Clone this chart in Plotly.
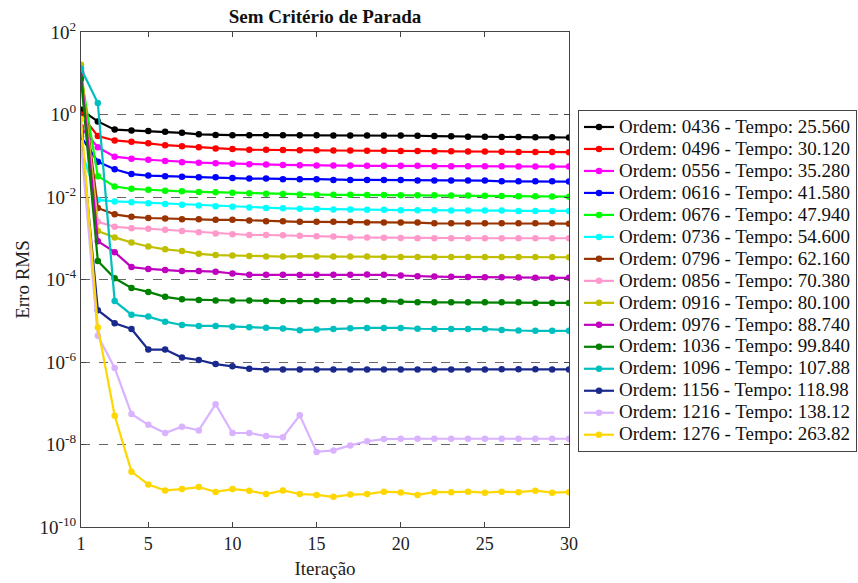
import plotly.graph_objects as go

iteracoes = list(range(1, 31))
x_ticks = [1, 5, 10, 15, 20, 25, 30]
y_expoentes = [2, 0, -2, -4, -6, -8, -10]

ordens = ["0436", "0496", "0556", "0616", "0676", "0736", "0796", "0856",
          "0916", "0976", "1036", "1096", "1156", "1216", "1276"]
tempos = ["25.560", "30.120", "35.280", "41.580", "47.940", "54.600", "62.160",
          "70.380", "80.100", "88.740", "99.840", "107.88", "118.98", "138.12", "263.82"]

cores = ["#000000", "#ff0000", "#ff00ff", "#0000ff", "#00ff00", "#00ffff", "#993300",
         "#ff99cc", "#bfbf00", "#bf00bf", "#008000", "#00bfbf", "#1a2a8c", "#d9b3ff", "#ffd700"]

erro_0436 = [1.3, 0.68, 0.43, 0.41, 0.40, 0.38, 0.36, 0.33, 0.32, 0.315, 0.315, 0.315, 0.315, 0.315, 0.315,
             0.31, 0.31, 0.31, 0.31, 0.31, 0.305, 0.30, 0.295, 0.29, 0.29, 0.285, 0.285, 0.28, 0.28, 0.277]
erro_0496 = [1.0, 0.30, 0.235, 0.22, 0.20, 0.18, 0.17, 0.16, 0.15, 0.145, 0.14, 0.14, 0.138, 0.135, 0.135,
             0.134, 0.134, 0.133, 0.132, 0.131, 0.13, 0.129, 0.128, 0.127, 0.126, 0.125, 0.124, 0.123, 0.123, 0.122]
erro_0556 = [0.5, 0.16, 0.095, 0.085, 0.08, 0.075, 0.07, 0.068, 0.066, 0.064, 0.062, 0.061, 0.06, 0.059, 0.058,
             0.058, 0.058, 0.057, 0.057, 0.057, 0.057, 0.056, 0.056, 0.056, 0.056, 0.056, 0.055, 0.055, 0.055, 0.0547]
erro_0616 = [0.29, 0.072, 0.047, 0.036, 0.033, 0.032, 0.031, 0.030, 0.030, 0.029, 0.028, 0.028, 0.027, 0.027, 0.027,
             0.026, 0.026, 0.026, 0.026, 0.026, 0.025, 0.025, 0.025, 0.025, 0.025, 0.024, 0.024, 0.024, 0.024, 0.0237]
erro_0676 = [9.0, 0.032, 0.018, 0.0158, 0.015, 0.0142, 0.0137, 0.0133, 0.013, 0.0127, 0.0124, 0.012, 0.0118, 0.0115, 0.0114,
             0.0113, 0.0113, 0.0112, 0.0112, 0.0111, 0.011, 0.011, 0.0109, 0.0108, 0.0107, 0.0106, 0.0105, 0.0104, 0.0103, 0.0102]
erro_0736 = [0.14, 0.0085, 0.0078, 0.0075, 0.0071, 0.0068, 0.0065, 0.0062, 0.006, 0.0058, 0.0056, 0.0054, 0.0053, 0.0052, 0.0051,
             0.005, 0.005, 0.0049, 0.0049, 0.0048, 0.0048, 0.0048, 0.0047, 0.0047, 0.0047, 0.0047, 0.0046, 0.0046, 0.0046, 0.0046]
erro_0796 = [10.0, 0.0054, 0.0038, 0.0033, 0.0031, 0.0030, 0.0029, 0.0029, 0.0028, 0.0028, 0.0027, 0.0026, 0.0026, 0.0025, 0.0025,
             0.0025, 0.0025, 0.0024, 0.0024, 0.0024, 0.0024, 0.0023, 0.0023, 0.0023, 0.0023, 0.0023, 0.0023, 0.0023, 0.0023, 0.00226]
erro_0856 = [11.0, 0.0025, 0.0019, 0.00175, 0.0017, 0.0016, 0.0015, 0.0014, 0.0013, 0.00125, 0.0012, 0.0012, 0.00118, 0.00115, 0.00112,
             0.0011, 0.00105, 0.00104, 0.00103, 0.00102, 0.001, 0.001, 0.001, 0.001, 0.001, 0.001, 0.001, 0.001, 0.001, 0.001]
erro_0916 = [16.0, 0.0015, 0.00105, 0.00079, 0.00063, 0.00054, 0.00049, 0.00042, 0.00039, 0.00038, 0.00037, 0.00036, 0.00036, 0.00037, 0.00036,
             0.00036, 0.00036, 0.00036, 0.00035, 0.00035, 0.00035, 0.00035, 0.00035, 0.00035, 0.00035, 0.00035, 0.00035, 0.00035, 0.00035, 0.000346]
erro_0976 = [10.5, 0.00085, 0.00046, 0.0002, 0.00018, 0.00017, 0.00016, 0.00016, 0.000155, 0.00014, 0.00013, 0.00013, 0.00013, 0.000128, 0.00013,
             0.00013, 0.00013, 0.000133, 0.00013, 0.000125, 0.00012, 0.000118, 0.000116, 0.000115, 0.000114, 0.000113, 0.000112, 0.000111, 0.00011, 0.00011]
erro_1036 = [7.4, 0.00028, 0.000107, 0.000062, 0.00005, 0.000038, 0.000033, 0.000032, 0.000031, 0.000031, 0.000031, 0.00003, 0.00003, 0.00003, 0.00003,
             0.00003, 0.000031, 0.000031, 0.00003, 0.000029, 0.000028, 0.000028, 0.000028, 0.000028, 0.000028, 0.000028, 0.000028, 0.000027, 0.000027, 0.000027]
erro_1096 = [13.0, 1.9, 3.0e-5, 1.4e-5, 1.26e-5, 9.5e-6, 7.9e-6, 7.5e-6, 7.5e-6, 7.2e-6, 7.0e-6, 6.8e-6, 6.5e-6, 5.9e-6, 6.1e-6,
             6.3e-6, 6.6e-6, 6.7e-6, 6.7e-6, 6.7e-6, 6.4e-6, 6.3e-6, 6.3e-6, 6.3e-6, 6.3e-6, 6.0e-6, 5.8e-6, 5.7e-6, 5.7e-6, 5.7e-6]
erro_1156 = [0.35, 1.8e-5, 8.7e-6, 6.3e-6, 2.0e-6, 2.0e-6, 1.28e-6, 1.12e-6, 8.9e-7, 7.9e-7, 6.9e-7, 6.6e-7, 6.6e-7, 6.6e-7, 6.6e-7,
             6.6e-7, 6.6e-7, 6.6e-7, 6.6e-7, 6.6e-7, 6.6e-7, 6.6e-7, 6.6e-7, 6.6e-7, 6.6e-7, 6.7e-7, 6.7e-7, 6.7e-7, 6.6e-7, 6.6e-7]
erro_1216 = [0.2, 4.3e-6, 7.2e-7, 5.5e-8, 3.0e-8, 1.9e-8, 2.7e-8, 2.2e-8, 9.5e-8, 1.9e-8, 1.9e-8, 1.6e-8, 1.5e-8, 5.1e-8, 6.6e-9,
             7.2e-9, 9.5e-9, 1.2e-8, 1.35e-8, 1.38e-8, 1.38e-8, 1.38e-8, 1.38e-8, 1.38e-8, 1.38e-8, 1.38e-8, 1.38e-8, 1.38e-8, 1.38e-8, 1.38e-8]
erro_1276 = [0.78, 6.9e-6, 5.0e-8, 2.2e-9, 1.07e-9, 7.7e-10, 8.3e-10, 9.3e-10, 7.1e-10, 8.3e-10, 7.6e-10, 6.3e-10, 7.7e-10, 6.3e-10, 6.0e-10,
             5.4e-10, 6.1e-10, 6.3e-10, 7.2e-10, 6.9e-10, 6.0e-10, 7.0e-10, 7.0e-10, 7.2e-10, 6.8e-10, 7.2e-10, 7.0e-10, 7.6e-10, 6.8e-10, 7.0e-10]

series = [erro_0436, erro_0496, erro_0556, erro_0616, erro_0676, erro_0736, erro_0796, erro_0856,
          erro_0916, erro_0976, erro_1036, erro_1096, erro_1156, erro_1216, erro_1276]

fonte = "Liberation Serif"

fig = go.Figure()
for ordem, tempo, cor, y in zip(ordens, tempos, cores, series):
    fig.add_trace(go.Scatter(
        x=iteracoes, y=y, mode="lines+markers",
        # larger text inside a compact legend row
        name=f'<span style="font-size:19px">Ordem: {ordem} - Tempo: {tempo}</span>',
        line=dict(color=cor, width=2.2),
        marker=dict(color=cor, size=6.5),
    ))

fig.update_layout(
    width=858, height=583,
    margin=dict(l=81, r=289, t=32, b=56, autoexpand=False),
    paper_bgcolor="white", plot_bgcolor="white",
    font=dict(family=fonte, size=18, color="#222"),
    title=dict(text="<b>Sem Critério de Parada</b>", x=(81 + 488 / 2) / 858, xanchor="center",
               y=1 - 16 / 583, yanchor="middle", font=dict(family=fonte, size=19, color="#111")),
    showlegend=True,
    legend=dict(x=(578 - 81) / 488, y=(527 - 110) / 495,
                xanchor="left", yanchor="top",
                bordercolor="#444", borderwidth=1, bgcolor="white",
                font=dict(family=fonte, size=14.6, color="#111"),
                tracegroupgap=0, itemwidth=30),
)

fig.update_xaxes(
    range=[1, 30], tickvals=x_ticks,
    ticks="inside", ticklen=5, tickcolor="#444", mirror="allticks",
    showline=True, linecolor="#444", linewidth=1, showgrid=False, zeroline=False,
    title=dict(text="Iteração", font=dict(family=fonte, size=19), standoff=9),
    tickfont=dict(family=fonte, size=18),
)
fig.update_yaxes(
    type="log", range=[-10, 2],
    tickvals=[10.0 ** e for e in y_expoentes],
    ticktext=[f"10<sup>{e}</sup>" for e in y_expoentes],
    ticks="inside", ticklen=5, tickcolor="#444", mirror="allticks",
    showline=True, linecolor="#444", linewidth=1,
    showgrid=True, gridcolor="#666", griddash="dash", gridwidth=1, zeroline=False,
    title=dict(text="Erro RMS", font=dict(family=fonte, size=19), standoff=4),
    tickfont=dict(family=fonte, size=19),
)

fig.write_html("out.html")
